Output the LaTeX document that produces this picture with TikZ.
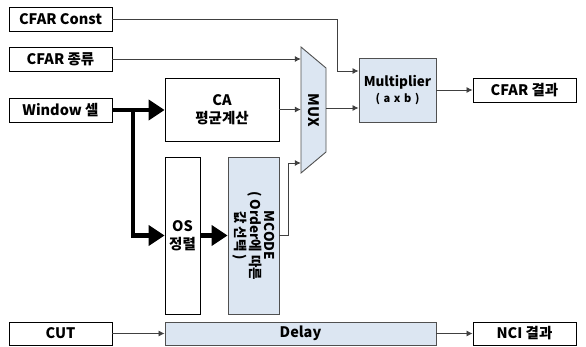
\documentclass[tikz,border=0pt]{standalone}
\usepackage{fontspec}
\setmainfont{Noto Sans CJK KR}
\usetikzlibrary{arrows.meta}
\definecolor{boxblue}{RGB}{220,230,242}
\definecolor{linegray}{RGB}{64,64,64}
\definecolor{bordergray}{RGB}{80,80,80}
\begin{document}
\begin{tikzpicture}[x=1pt,y=-1pt,
  box/.style={draw=black, line width=0.9pt, fill=white, inner sep=0pt, align=center,
    font=\bfseries\fontsize{14.5}{16}\selectfont},
  bluebox/.style={box, draw=bordergray, fill=boxblue},
  txt/.style={inner sep=0pt, align=center, font=\bfseries\fontsize{14.5}{16}\selectfont},
  conn/.style={draw=linegray, line width=0.8pt, -{Latex[length=6pt,width=6pt]}},
  bigarrow/.style={draw=black, line width=4.5pt, line join=miter, -{Triangle[length=16pt,width=20pt]}}]
\useasboundingbox (0,0) rectangle (586,347);
% input boxes
\node[box, minimum width=103pt, minimum height=24pt] (const) at (60.5,19) {CFAR Const};
\node[box, minimum width=103pt, minimum height=24pt] (kind) at (60.5,59) {CFAR 종류};
\node[box, minimum width=103pt, minimum height=24pt] (win) at (60.5,110) {Window 셀};
\node[box, minimum width=103pt, minimum height=23pt] (cut) at (60.5,333.5) {CUT};
% processing
\node[box, minimum width=114pt, minimum height=63pt] (ca) at (222,109.5) {CA\\[2pt]평균계산};
\node[box, minimum width=35pt, minimum height=157pt] (os) at (182.5,235.5) {OS\\[2pt]정렬};
\node[bluebox, minimum width=51pt, minimum height=157pt] (mcode) at (253.5,235.5) {};
\node[txt, rotate=-90, font=\bfseries\fontsize{13.5}{14}\selectfont] at (mcode.center) {MCODE\\( Order에 따른\\값 선택 )};
% MUX
\node[minimum width=25pt, minimum height=126pt, inner sep=0pt] (mux) at (313.5,110) {};
\draw[draw=bordergray, fill=boxblue, line width=0.9pt] (301,47) -- (326,68) -- (326,152) -- (301,173) -- cycle;
\node[txt, rotate=-90] at (mux.center) {MUX};
% multiplier
\node[bluebox, minimum width=77pt, minimum height=64pt, font=\bfseries\fontsize{13.5}{15}\selectfont] (mult) at (397.5,90)
  {Multiplier\\[1pt]{\fontsize{11}{12}\selectfont (\,\,a\,\,x\,\,b\,\,)}};
\node[box, minimum width=103pt, minimum height=24pt] (res) at (524.5,90) {CFAR 결과};
% delay
\node[bluebox, minimum width=271pt, minimum height=23pt] (delay) at (300.5,333.5) {Delay};
\node[box, minimum width=103pt, minimum height=23pt] (nci) at (524.5,333.5) {NCI 결과};
% connectors
\draw[conn] (const.east) -- ++(225,0) |- ([yshift=19pt]mult.west);
\draw[conn] (kind.east) -- (kind.east -| mux.west);
\draw[conn] (ca.east) -- (ca.east -| mux.west);
\draw[conn] (mcode.east) -- ++(9,0) |- ([yshift=-53pt]mux.west);
\draw[conn] ([yshift=2pt]mux.east) -- ([yshift=-18pt]mult.west);
\draw[conn] (mult.east) -- (res.west);
\draw[conn] (cut.east) -- (delay.west);
\draw[conn] (delay.east) -- (nci.west);
\coordinate (br) at (133,110);
\draw[bigarrow] (win.east) -- (win.east -| ca.west);
\draw[bigarrow] (br) |- (os.west);
\draw[bigarrow] (os.east) -- (mcode.west);
\end{tikzpicture}
\end{document}
